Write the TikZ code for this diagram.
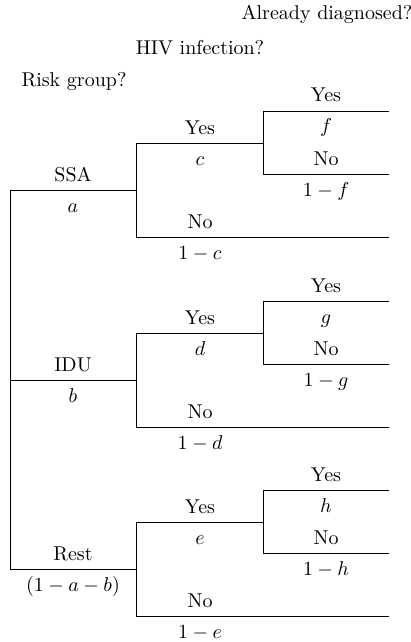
\documentclass[tikz,border=0pt]{standalone}
\begin{document}
\begin{tikzpicture}[x=0.5pt,y=-0.5pt,
  lab/.style={anchor=base, inner sep=0pt},
  branch/.style={line width=0.4pt, line cap=rect}]
\useasboundingbox (0,0) rectangle (411,642);
\node[lab] (h1) at (74,87) {Risk group?};
\node[lab] (h2) at (200,55) {HIV infection?};
\node[lab] (h3) at (327,20) {Already diagnosed?};
\foreach \n/\y/\g/\p/\q/\r in {1/190/SSA/{$a$}/c/f, 2/380/IDU/{$b$}/d/g, 3/569/Rest/{$(1-a-b)$}/e/h} {
  \coordinate (r\n) at (10,\y);
  \coordinate (j\n) at (136,\y);
  \coordinate (ya\n) at (136,\y-47);
  \coordinate (yb\n) at (263,\y-47);
  \coordinate (na\n) at (136,\y+47);
  \coordinate (nb\n) at (389,\y+47);
  \coordinate (ta\n) at (263,\y-79);
  \coordinate (te\n) at (389,\y-79);
  \coordinate (tn\n) at (263,\y-16);
  \coordinate (tne\n) at (389,\y-16);
  \draw[branch] (r\n) -- (j\n);
  \draw[branch] (ya\n) -- (na\n);
  \draw[branch] (ya\n) -- (yb\n);
  \draw[branch] (na\n) -- (nb\n);
  \draw[branch] (ta\n) -- (tn\n);
  \draw[branch] (ta\n) -- (te\n);
  \draw[branch] (tn\n) -- (tne\n);
  \node[lab] (g\n) at (73,\y-9) {\g};
  \node[lab] (p\n) at (73,\y+22) {\p};
  \node[lab] (ys\n) at (200,\y-56) {Yes};
  \node[lab] (q\n) at (200,\y-25) {$\q$};
  \node[lab] (no\n) at (200,\y+38) {No};
  \node[lab] (nq\n) at (200,\y+69) {$1-\q$};
  \node[lab] (ys3\n) at (326,\y-88) {Yes};
  \node[lab] (s\n) at (326,\y-57) {$\r$};
  \node[lab] (no3\n) at (326,\y-25) {No};
  \node[lab] (ns\n) at (326,\y+6) {$1-\r$};
}
\draw[branch] (r1) -- (r3);
\end{tikzpicture}
\end{document}
